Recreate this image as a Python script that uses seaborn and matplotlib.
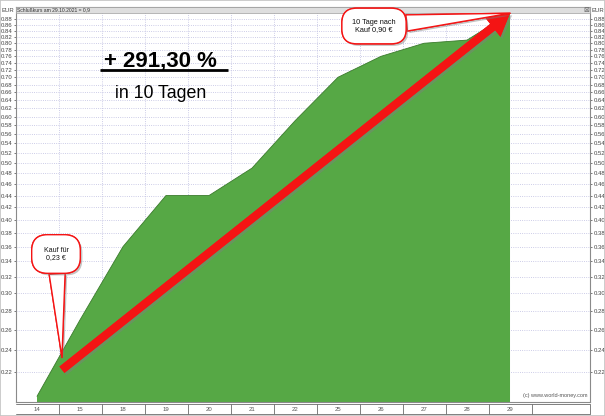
import numpy as np
import pandas as pd
import matplotlib
matplotlib.use('Agg')
import matplotlib.pyplot as plt
import seaborn as sns
from matplotlib.patches import FancyArrowPatch, Rectangle
import matplotlib.patheffects as pe
import matplotlib.transforms as mtransforms
from matplotlib.ticker import FixedLocator, FixedFormatter, NullLocator, NullFormatter

# ---- data ----
days = ['14', '15', '18', '19', '20', '21', '22', '25', '26', '27', '28', '29']
close = [0.20, 0.27, 0.36, 0.44, 0.44, 0.49, 0.59, 0.70, 0.76, 0.80, 0.81, 0.90]
y_ticks = [0.22, 0.24, 0.26, 0.28, 0.30, 0.32, 0.34, 0.36, 0.38, 0.40, 0.42,
           0.44, 0.46, 0.48, 0.50, 0.52, 0.54, 0.56, 0.58, 0.60, 0.62, 0.64,
           0.66, 0.68, 0.70, 0.72, 0.74, 0.76, 0.78, 0.80, 0.82, 0.84, 0.86, 0.88]
buy_point = (0.58, 0.233)      # callout "Kauf für 0,23 €"
arrow_start = (0.58, 0.222)    # start of the red trend arrow
gain_text = '+ 291,30 %'
period_text = 'in 10 Tagen'
header_text = 'Schlußkurs am 29.10.2021 = 0,9'

# ---- style ----
sns.set_theme(style='white')
plt.rcParams['font.family'] = ['Liberation Sans', 'DejaVu Sans']

GREEN = '#56a845'
DARK_GREEN = '#3a7a2c'
RED = '#f41414'
GRID = '#bcbce0'

W, H = 605, 416
fig = plt.figure(figsize=(W / 100, H / 100), dpi=100)
fig.patch.set_facecolor('white')
L, R, T, B = 15.5, 590, 7, 402
ax = fig.add_axes([L / W, 1 - B / H, (R - L) / W, (B - T) / H])
ax.set_facecolor('white')

def afx(px):
    return (px - L) / (R - L)

def afy(py):
    return (B - py) / (B - T)

df = pd.DataFrame({'pos': np.arange(len(days)), 'close': close})
ax.fill_between(df['pos'], df['close'], 0.1, color=GREEN, lw=0, zorder=2)
sns.lineplot(data=df, x='pos', y='close', ax=ax, color=DARK_GREEN, lw=0.6, zorder=3)

ax.set_yscale('log')
ax.set_ylim(0.1956, 0.9224)
ax.set_xlim(-0.5, 12.86)
ax.set_xlabel('')
ax.set_ylabel('')

ax.yaxis.set_major_locator(FixedLocator(y_ticks))
ax.yaxis.set_major_formatter(FixedFormatter([f'{v:.2f}' for v in y_ticks]))
ax.yaxis.set_minor_locator(NullLocator())
ax.yaxis.set_minor_formatter(NullFormatter())
ax.tick_params(axis='y', which='major', left=True, right=True, labelleft=True,
               labelright=True, length=1.5, width=0.5, labelsize=4.3, pad=1,
               colors='#444444')

ax.set_xticks(np.arange(len(days)))
ax.set_xticklabels(days)
ax.set_xticks(np.arange(len(days) - 1) + 0.5, minor=True)
ax.tick_params(axis='x', which='both', length=0, labelsize=4.3, pad=3.8,
               colors='#555555')

ax.grid(True, which='major', axis='y', color=GRID, ls=':', lw=0.6)
ax.grid(True, which='minor', axis='x', color=GRID, ls=':', lw=0.6)
ax.grid(False, which='major', axis='x')
ax.set_axisbelow(True)

for s in ax.spines.values():
    s.set_color('#8a8a8a')
    s.set_linewidth(0.8)

# bottom date band
blend = mtransforms.blended_transform_factory(ax.transData, ax.transAxes)
y1 = afy(404)
y2 = afy(414)
for yy in (y1, y2):
    ax.plot([0, 1], [yy, yy], transform=ax.transAxes, clip_on=False,
            color='#6a6a6a', lw=0.6)
ax.vlines(np.arange(len(days)) + 0.5, y2, y1, transform=blend, clip_on=False,
          color='#6a6a6a', lw=0.6)
ax.vlines([1.0], y2, y1, transform=ax.transAxes, clip_on=False, color='#6a6a6a', lw=0.6)

# header bar
hb = afy(12.7)
ax.add_patch(Rectangle((0, hb), 1, 1 - hb, transform=ax.transAxes, fc='#dedede',
                       ec='#a0a0a0', lw=0.5, zorder=4, clip_on=False))
ax.text(0.003, (hb + 1) / 2, header_text, transform=ax.transAxes, fontsize=3.6,
        va='center', ha='left', color='#333333', zorder=5)
fig.text(2 / W, 1 - 10 / H, 'EUR', fontsize=4.3, va='center', ha='left', color='#444444')
fig.text(592 / W, 1 - 10 / H, 'EUR', fontsize=4.3, va='center', ha='left', color='#444444')
fig.text(586 / W, 1 - 10 / H, '⊠', fontsize=5, va='center', ha='center',
         color='#666666', family=['DejaVu Sans'])
ax.text(0.995, 0.01, '(c) www.world-money.com', transform=ax.transAxes,
        fontsize=4.0, ha='right', va='bottom', color='#555555', zorder=4)

# headline text
ax.text(afx(160), afy(66.7), gain_text, transform=ax.transAxes,
        fontsize=16, fontweight='bold', ha='center', va='baseline', color='black', zorder=6)
ax.plot([afx(100), afx(228)], [afy(69.5)] * 2,
        transform=ax.transAxes, color='black', lw=2.0, solid_capstyle='butt', zorder=6)
ax.text(afx(161), afy(97.7), period_text, transform=ax.transAxes,
        fontsize=12.8, ha='center', va='baseline', color='black', zorder=6)

shadow = [pe.withSimplePatchShadow(offset=(1.5, -1.5), shadow_rgbFace='#808080', alpha=0.45), pe.Normal()]

# red trend arrow
arr = FancyArrowPatch(posA=arrow_start, posB=(len(days) - 1, close[-1]),
                      arrowstyle='simple,head_length=0.55,head_width=0.62,tail_width=0.2',
                      mutation_scale=29, color=RED, lw=0, shrinkA=0, shrinkB=0,
                      transform=ax.transData, zorder=7)
arr.set_path_effects(shadow)
ax.add_patch(arr)

# callouts
def bubble(text, xy, xytext, pad, rs, tw, fs=5):
    a = ax.annotate(text, xy=xy, xycoords='data', xytext=xytext,
                    textcoords='axes fraction', fontsize=fs, ha='center', va='center',
                    multialignment='center', color='#111111', zorder=8,
                    bbox=dict(boxstyle=f'round,pad={pad},rounding_size={rs}',
                              fc='white', ec=RED, lw=1.0),
                    arrowprops=dict(arrowstyle=f'wedge,tail_width={tw}', fc='white',
                                    ec=RED, lw=1.0, shrinkA=0, shrinkB=0))
    a.get_bbox_patch().set_path_effects(shadow)
    a.arrow_patch.set_path_effects(shadow)
    return a

bubble('Kauf für\n0,23 €', buy_point, (afx(56), afy(254)), 1.7, 2.3, 2.3)
bubble('10 Tage nach\nKauf 0,90 €', (len(days) - 1, close[-1]),
       (afx(374), afy(26)), 1.4, 2.0, 2.2, fs=5.3)

# outer frame
fig.add_artist(Rectangle((0, 0), 1, 1, transform=fig.transFigure, fill=False,
                         ec='#c4c4c4', lw=1.2))

fig.savefig('out.png', dpi=100, facecolor='white')
